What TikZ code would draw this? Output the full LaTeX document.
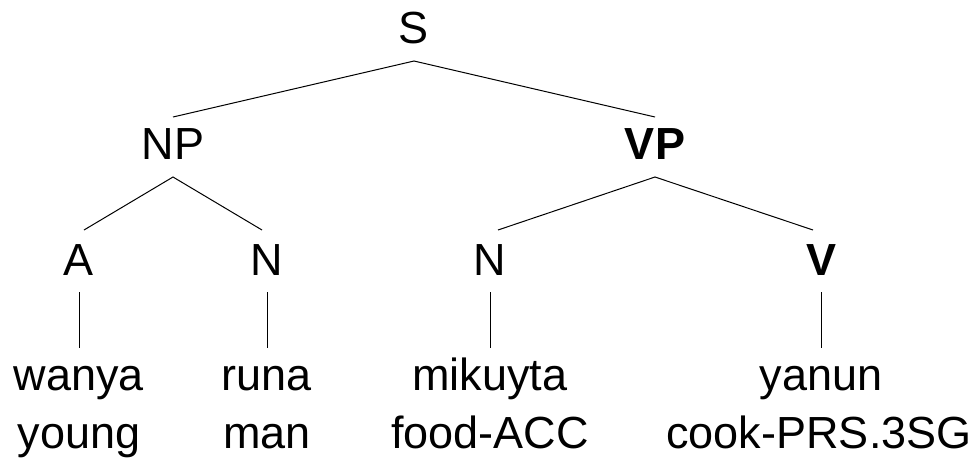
\documentclass[tikz,border=0pt]{standalone}
\usepackage{fontspec}
\setmainfont{Liberation Sans}
\usetikzlibrary{calc}
\begin{document}
\begin{tikzpicture}[x=1pt,y=-1pt,
  lab/.style={anchor=base,inner sep=0pt,font=\fontsize{45}{54}\selectfont},
  edge/.style={draw=black,line width=1pt}]
\useasboundingbox (0,0) rectangle (976,459);
\node[lab] (S) at (414,43) {S};
\node[lab] (NP) at (173,159) {NP};
\node[lab] (VP) at (655,159) {\bfseries VP};
\node[lab] (A) at (79,275) {A};
\node[lab] (N1) at (267,275) {N};
\node[lab] (N2) at (490,275) {N};
\node[lab] (V) at (821,275) {\bfseries V};
\node[lab] (w1) at (79,390) {wanya};
\node[lab] (g1) at (79,448) {young};
\node[lab] (w2) at (267,390) {runa};
\node[lab] (g2) at (267,448) {man};
\node[lab] (w3) at (490,390) {mikuyta};
\node[lab] (g3) at (490,448) {food-ACC};
\node[lab] (w4) at (821,390) {yanun};
\node[lab] (g4) at (819,448) {cook-PRS.3SG};
\draw[edge] ($(NP.base)+(0,-42)$) -- ($(S.base)+(0,18)$) -- ($(VP.base)+(0,-42)$);
\draw[edge] ($(A.base)+(5,-45)$) -- ($(NP.base)+(0,18)$) -- ($(N1.base)+(-5,-45)$);
\draw[edge] ($(N2.base)+(8,-45)$) -- ($(VP.base)+(0,18)$) -- ($(V.base)+(-8,-45)$);
\draw[edge] ($(A.base)+(0,17)$) -- ($(w1.base)+(0,-42)$);
\draw[edge] ($(N1.base)+(0,17)$) -- ($(w2.base)+(0,-42)$);
\draw[edge] ($(N2.base)+(0,17)$) -- ($(w3.base)+(0,-42)$);
\draw[edge] ($(V.base)+(0,17)$) -- ($(w4.base)+(0,-42)$);
\end{tikzpicture}
\end{document}
